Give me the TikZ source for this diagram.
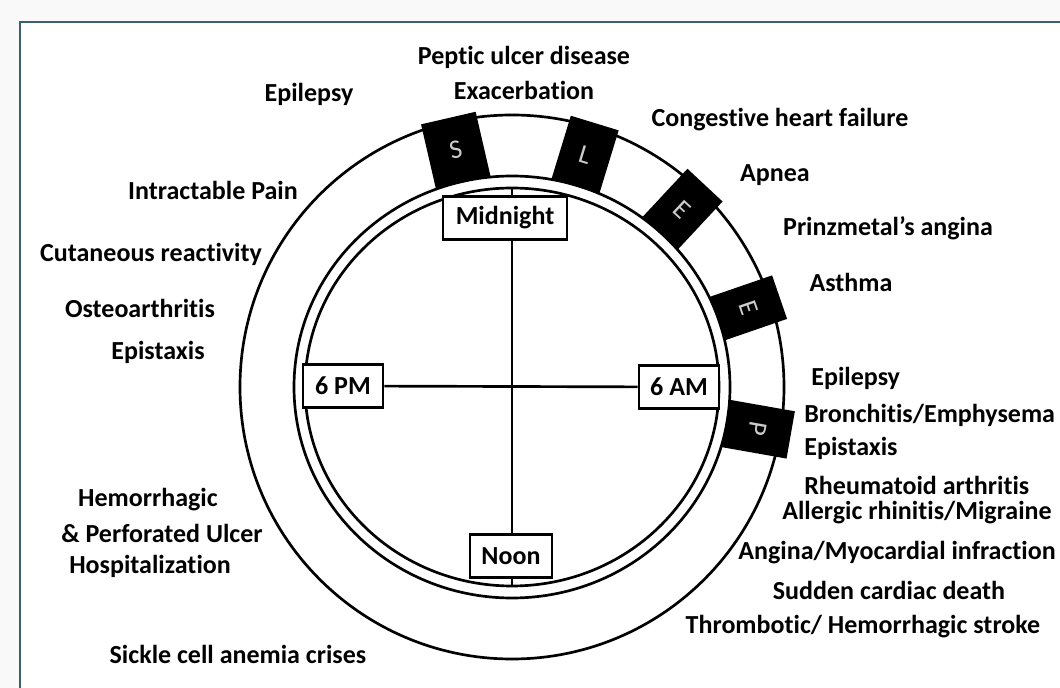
\documentclass[tikz,border=0pt]{standalone}
\usepackage{fontspec}
\setmainfont{Carlito}[Ligatures=NoCommon]
\usepackage{tikz}
\usetikzlibrary{positioning}
\definecolor{framecol}{RGB}{58,96,110}

\begin{document}
\begin{tikzpicture}[x=0.025cm, y=-0.025cm, line width=1.9pt,
    disease/.style={font=\bfseries\fontsize{18.5}{22}\selectfont, inner sep=0pt},
    timebox/.style={draw, fill=white, font=\bfseries\fontsize{18.5}{22}\selectfont, minimum height=1.08cm, inner sep=0pt},
    phase/.style={fill=black, minimum height=1.65cm, inner sep=0pt, text=gray!40, font=\fontsize{19}{22}\selectfont}]
		% Page and frame
		\useasboundingbox (0,0) rectangle (1060,688);
		\fill[gray!5] (0,0) rectangle (1060,688);
		\fill[white] (20,22) rectangle (1060,688);
		\draw[framecol, line width=1.3pt] (20,688) -- (20,22) -- (1060,22);

		% Clock rings
		\draw (512,387) circle [radius=272];
		\draw (512,387) ellipse [x radius=218, y radius=211];
		\draw (512,387) ellipse [x radius=207, y radius=199];

		% Sleep / wake phases
		\foreach \ang/\ltr/\bw [count=\i] in {103/S/1.4cm, 73/L/1.25cm, 47/E/1.2cm, 19/E/1.15cm, -10/P/1.2cm}
			\node[phase, minimum width=\bw, rotate=\ang-90] (ph\i) at ({512+250*cos(\ang)},{387-243*sin(\ang)}) {\ltr};

		% Hands
		\coordinate (ctop) at (512,188);
		\coordinate (cbot) at (512,586);
		\draw (ctop) -- (cbot);
		\node[timebox, minimum width=3.1cm] (midnight) at (505,218) {Midnight};
		\node[timebox, minimum width=2.05cm] (noon) at (511,556) {Noon};
		\node[timebox, minimum width=2cm] (pm) at (343,386) {6 PM};
		\node[timebox, minimum width=2cm] (am) at (679,387) {6 AM};
		\draw (pm) -- (am);

		% Top
		\node[disease] (pud) at (524,57) {Peptic ulcer disease};
		\node[disease] (exac) at (524,90) {Exacerbation};
		\node[disease] (epil1) at (309,94) {Epilepsy};

		% Right side
		\node[disease] (chf) at (780,120) {Congestive heart failure};
		\node[disease] (apnea) at (775,175) {Apnea};
		\node[disease] (prinz) at (888,228) {Prinzmetal’s angina};
		\node[disease] (asthma) at (851,282) {Asthma};
		\node[disease, anchor=west] (epil2) at (810,378) {Epilepsy};
		\node[disease, anchor=west] (bronch) at (803,415) {Bronchitis/Emphysema};
		\node[disease, anchor=west] (epis2) at (803,448) {Epistaxis};
		\node[disease, anchor=west] (rheum) at (803,485) {Rheumatoid arthritis};
		\node[disease] (allerg) at (917,513) {Allergic rhinitis/Migraine};
		\node[disease] (angina) at (897,553) {Angina/Myocardial infraction};
		\node[disease] (scd) at (889,590) {Sudden cardiac death};
		\node[disease] (stroke) at (863,627) {Thrombotic/ Hemorrhagic stroke};

		% Left side
		\node[disease] (pain) at (213,190) {Intractable Pain};
		\node[disease] (cutan) at (151,254) {Cutaneous reactivity};
		\node[disease] (osteo) at (140,308) {Osteoarthritis};
		\node[disease] (epis1) at (158,352) {Epistaxis};
		\node[disease] (hem1) at (148,500) {Hemorrhagic};
		\node[disease] (hem2) at (162,533) {\& Perforated Ulcer};
		\node[disease] (hem3) at (150,566) {Hospitalization};
		\node[disease] (sickle) at (238,654) {Sickle cell anemia crises};
	\end{tikzpicture}
\end{document}
